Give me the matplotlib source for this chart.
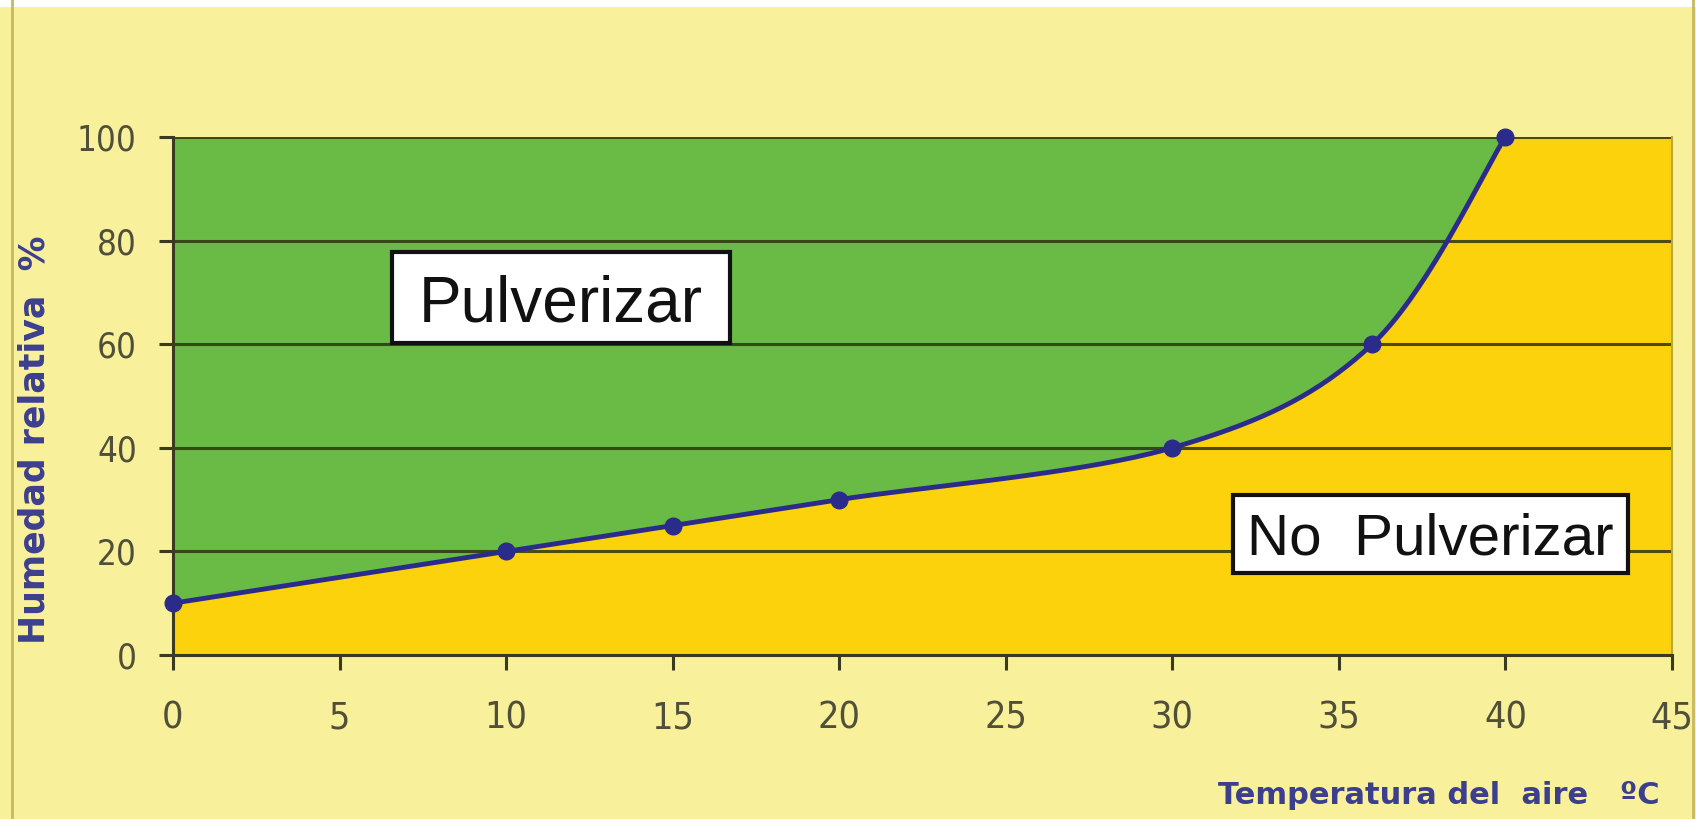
import numpy as np
import matplotlib
matplotlib.use("Agg")
import matplotlib.pyplot as plt
from matplotlib.lines import Line2D
from matplotlib.patches import Rectangle

# ---- data ----
temp = [0, 10, 15, 20, 30, 36, 40]
humidity = [10, 20, 25, 30, 40, 60, 100]
x_ticks = [0, 5, 10, 15, 20, 25, 30, 35, 40, 45]
y_ticks = [0, 20, 40, 60, 80, 100]
label_spray = "Pulverizar"
label_nospray = "No  Pulverizar"
xlabel = "Temperatura del  aire   ºC"
ylabel = "Humedad relativa  %"

# ---- colours ----
BG = "#F8F09A"
GREEN = "#6ABB45"
YELLOW = "#FCD20C"
NAVY = "#2B2B8C"
LABEL_BLUE = "#3C3F8E"
TICK_COL = "#50503A"
GRID = "#2E3410"


def smooth(xs, ys, n=40):
    """Excel-like smoothed line (cubic Bezier, tension 1/6)."""
    P = np.column_stack([xs, ys]).astype(float)
    m = len(P)
    out = []
    for i in range(m - 1):
        p0 = P[i - 1] if i > 0 else P[i]
        p1 = P[i]
        p2 = P[i + 1]
        p3 = P[i + 2] if i + 2 < m else P[i + 1]
        c1 = p1 + (p2 - p0) / 6.0
        c2 = p2 - (p3 - p1) / 6.0
        t = np.linspace(0, 1, n)[:, None]
        seg = ((1 - t) ** 3) * p1 + 3 * ((1 - t) ** 2) * t * c1 + 3 * (1 - t) * t ** 2 * c2 + t ** 3 * p2
        out.append(seg if i == 0 else seg[1:])
    S = np.vstack(out)
    return S[:, 0], S[:, 1]


fig = plt.figure(figsize=(16.96, 8.19), dpi=100, facecolor=BG)
ax = fig.add_axes([173 / 1696, 1 - 655 / 819, (1672 - 173) / 1696, (655 - 137) / 819])
ax.set_facecolor(YELLOW)

cx, cy = smooth(temp, humidity)
ax.fill_between(cx, cy, 100, color=GREEN, zorder=1, linewidth=0)

for yv in y_ticks[1:]:
    ax.axhline(yv, color=GRID, lw=2.2, alpha=0.85, zorder=2)

ax.plot(cx, cy, color=NAVY, lw=3.5, zorder=3, solid_capstyle="round")
ax.plot(temp, humidity, "o", color=NAVY, ms=12, zorder=4, clip_on=False)

ax.set_xlim(0, 45)
ax.set_ylim(0, 100)
ax.set_xticks(x_ticks)
ax.set_yticks(y_ticks)

tick_kw = dict(family=["DejaVu Sans"], fontstretch="condensed", color=TICK_COL)
ax.set_xticklabels([str(v) for v in x_ticks], fontsize=27, **tick_kw)
ax.set_yticklabels([str(v) for v in y_ticks], fontsize=25, **tick_kw)
ax.tick_params(axis="x", length=11, width=2.2, color="#3A3A20", pad=22)
ax.tick_params(axis="y", length=10, width=2.2, color="#3A3A20", pad=16)

for s in ["left", "bottom"]:
    ax.spines[s].set_color("#3A3A20")
    ax.spines[s].set_linewidth(2.2)
ax.spines["top"].set_visible(False)
ax.spines["right"].set_color("#B8A840")
ax.spines["right"].set_linewidth(1.5)

# label boxes (axes-fraction layout)
boxes = [
    (label_spray, (0.1461, 0.6023, 0.3716 - 0.1461, 0.778 - 0.6023), 46),
    (label_nospray, (0.7071, 0.1583, 0.9706 - 0.7071, 0.3089 - 0.1583), 42),
]
for txt, (bx, by, bw, bh), fs in boxes:
    ax.add_patch(Rectangle((bx, by), bw, bh, transform=ax.transAxes, facecolor="white",
                           edgecolor="#111111", linewidth=3, zorder=5))
    ax.text(bx + bw / 2, by + bh / 2, txt, transform=ax.transAxes, fontsize=fs,
            family=["Liberation Sans", "DejaVu Sans"], ha="center", va="center_baseline",
            color="#111111", zorder=6)

fig.text(35 / 1696, 1 - 440 / 819, ylabel, rotation=90, ha="center", va="center",
         fontsize=25, fontweight="bold", color=LABEL_BLUE, family=["DejaVu Sans"])
fig.text(1660 / 1696, 1 - 796 / 819, xlabel, ha="right", va="center",
         fontsize=22, fontweight="bold", color=LABEL_BLUE, family=["DejaVu Sans"])

# outer frame lines and top strip
fig.add_artist(Line2D([12 / 1696, 12 / 1696], [0, 1], transform=fig.transFigure, color="#C8B860", lw=2))
fig.add_artist(Line2D([1693 / 1696, 1693 / 1696], [0, 1], transform=fig.transFigure, color="#C8B860", lw=2))
fig.add_artist(Rectangle((0, 1 - 7 / 819), 1, 7 / 819, transform=fig.transFigure,
                         facecolor="white", edgecolor="none"))

fig.savefig("out.png", dpi=100, facecolor=BG)
